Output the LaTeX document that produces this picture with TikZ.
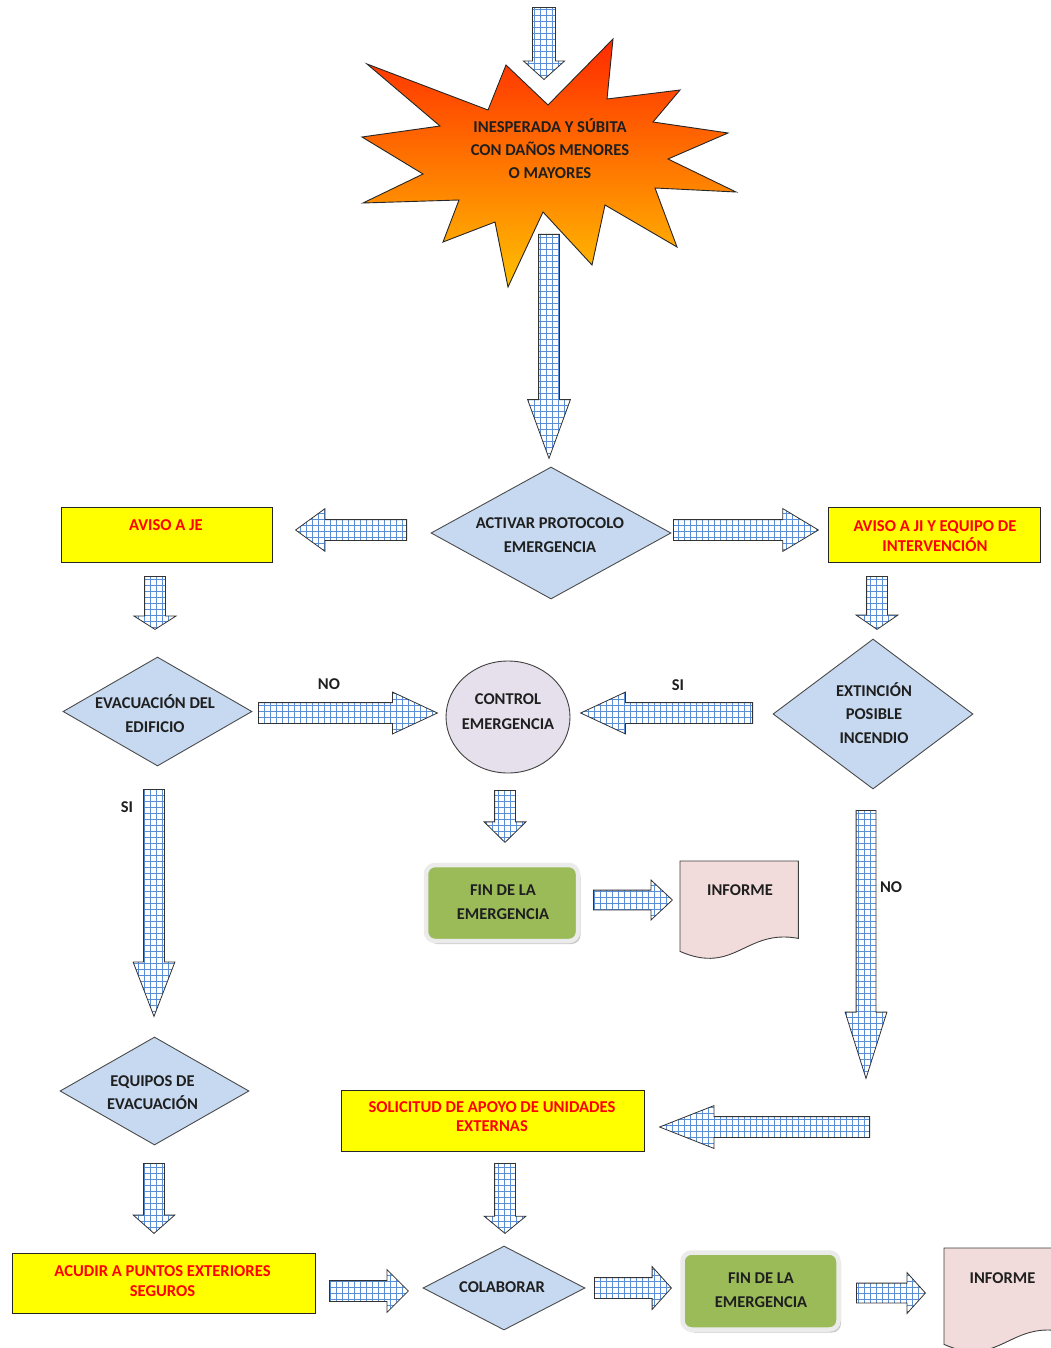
\documentclass[tikz,border=0pt]{standalone}
\usepackage{fontspec}
\setmainfont{Carlito}
\usetikzlibrary{shapes.geometric,shapes.arrows,patterns.meta,calc,shadows}
\definecolor{diafill}{HTML}{C6D9F1}
\definecolor{gridblue}{HTML}{5A8FD8}
\definecolor{ylw}{HTML}{FFFF00}
\definecolor{grn}{HTML}{9BBB59}
\definecolor{docfill}{HTML}{F2DCDB}
\definecolor{circfill}{HTML}{E6E0EC}
\definecolor{txtdark}{HTML}{1F1F1F}
\definecolor{txtred}{HTML}{FF0000}
\definecolor{sred}{HTML}{FF2A00}
\definecolor{smid}{HTML}{FF8A00}
\definecolor{sbot}{HTML}{FFC000}
\begin{document}
\begin{tikzpicture}[x=1pt,y=-1pt,
  every node/.style={font=\bfseries\fontsize{16.5}{24}\selectfont},
  txt/.style={align=center, text=txtdark, inner sep=0pt},
  rtxt/.style={align=center, text=txtred, inner sep=0pt, font=\bfseries\fontsize{16.6}{20}\selectfont},
  dia/.style={diamond, draw=black!70, fill=diafill, line width=0.9pt, inner sep=0pt},
  ybox/.style={rectangle, draw=black!85, fill=ylw, line width=1pt, inner sep=0pt},
  gbox/.style={rectangle, rounded corners=9pt, fill=grn, draw=black!8, line width=4.5pt, inner sep=0pt,
    drop shadow={shadow xshift=2.5pt, shadow yshift=-3pt, fill=black!35, opacity=0.6}},
  docnode/.style={rectangle, minimum width=118pt, inner sep=0pt, anchor=north west},
  docpath/.style={fill=docfill, draw=black!75, line width=0.9pt},
  barrow/.style={single arrow, draw=black!80, line width=0.8pt, inner sep=10pt,
    single arrow head indent=0pt, single arrow head extend=10.5pt, anchor=tail,
    preaction={fill=white},
    pattern={Hatch[distance=6pt, line width=1pt]}, pattern color=gridblue},
  down/.style={shape border rotate=270},
  left/.style={shape border rotate=180},
]
\useasboundingbox (0,0) rectangle (1051,1348);
\clip (0,0) rectangle (1051,1348);
\fill[white] (0,0) rectangle (1051,1348);

% star
\shadedraw[top color=sred, middle color=smid, bottom color=sbot, draw=black!85, line width=0.9pt]
 (367,64) -- (488,110) -- (506,65) -- (548,105) -- (613,39) -- (607,99) -- (680,90)
 -- (653,122) -- (728,133) -- (668,159) -- (736,192) -- (655,188) -- (677,247)
 -- (605,205) -- (592,265) -- (543,212) -- (508,287) -- (495,222) -- (443,242)
 -- (459,200) -- (363,203) -- (423,174) -- (362,137) -- (440,126) -- cycle;
\node[txt, font=\bfseries\fontsize{16.6}{23}\selectfont] (star) at (550,149) {INESPERADA Y SÚBITA\\CON DAÑOS MENORES\\O MAYORES};

% diamonds
\node[dia, minimum width=240pt, minimum height=132pt] (act) at (551,533) {};
\node[txt] (actt) at (550,535) {ACTIVAR PROTOCOLO\\EMERGENCIA};
\node[dia, minimum width=189pt, minimum height=109pt] (evac) at (157.5,711.5) {};
\node[txt] (evact) at (155,714) {EVACUACIÓN DEL\\EDIFICIO};
\node[dia, minimum width=200pt, minimum height=150pt] (ext) at (873,714) {};
\node[txt, font=\bfseries\fontsize{16.5}{23.5}\selectfont] (extt) at (874,713) {EXTINCIÓN\\POSIBLE\\INCENDIO};
\node[dia, minimum width=189pt, minimum height=108pt] (equ) at (154.5,1091) {};
\node[txt, font=\bfseries\fontsize{16.5}{23}\selectfont] (equt) at (152.5,1092.5) {EQUIPOS DE\\EVACUACIÓN};
\node[dia, minimum width=162pt, minimum height=84pt] (col) at (504,1288) {};
\node[txt] (colt) at (502,1287) {COLABORAR};

% control ellipse
\node[ellipse, draw=black!75, fill=circfill, line width=0.9pt, minimum width=124pt, minimum height=112pt, inner sep=0pt] (ctrl) at (508,717) {};
\node[txt, font=\bfseries\fontsize{16.5}{25}\selectfont] (ctrlt) at (508,711.5) {CONTROL\\EMERGENCIA};

% yellow boxes
\node[ybox, minimum width=211pt, minimum height=55pt] (je) at (166.5,534.5) {};
\node[rtxt] (jet) at (166,525) {AVISO A JE};
\node[ybox, minimum width=212pt, minimum height=55pt] (ji) at (934,534.5) {};
\node[rtxt] (jit) at (935,536) {AVISO A JI Y EQUIPO DE\\INTERVENCIÓN};
\node[ybox, minimum width=303pt, minimum height=61pt] (sol) at (492.5,1120.5) {};
\node[rtxt, font=\bfseries\fontsize{16.6}{18.5}\selectfont] (solt) at (492,1116.5) {SOLICITUD DE APOYO DE UNIDADES\\EXTERNAS};
\node[ybox, minimum width=303pt, minimum height=60pt] (acu) at (163.5,1283) {};
\node[rtxt] (acut) at (162.5,1281.5) {ACUDIR A PUNTOS EXTERIORES\\SEGUROS};

% green boxes
\node[gbox, minimum width=152pt, minimum height=76pt] (fin1) at (502,903) {};
\node[txt] (fin1t) at (503,902) {FIN DE LA\\EMERGENCIA};
\node[gbox, minimum width=156pt, minimum height=77pt] (fin2) at (760.5,1291) {};
\node[txt] (fin2t) at (761,1290) {FIN DE LA\\EMERGENCIA};

% documents
\node[docnode, minimum height=96pt] (inf1) at (680,861) {};
\path[docpath] (inf1.north west) -- (inf1.north east) -- ($(inf1.south east)+(0,-19)$)
  .. controls ($(inf1.south east)+(-53,-29)$) and ($(inf1.south west)+(55,18)$) .. ($(inf1.south west)+(0,-6)$) -- cycle;
\node[txt] (inf1t) at (740,890) {INFORME};
\node[docnode, minimum height=102pt] (inf2) at (944,1248) {};
\path[docpath] (inf2.north west) -- (inf2.north east) -- ($(inf2.south east)+(0,-19)$)
  .. controls ($(inf2.south east)+(-53,-29)$) and ($(inf2.south west)+(55,18)$) .. ($(inf2.south west)+(0,-6)$) -- cycle;
\node[txt] (inf2t) at (1002.5,1278) {INFORME};

% block arrows (inner sep = half shaft width)
\node[barrow, down, inner sep=11pt, minimum height=72pt, minimum width=40pt, single arrow head extend=9pt, single arrow tip angle=96] (a0) at (544,7) {};
\node[barrow, down, minimum height=224pt, minimum width=42pt, single arrow head extend=11pt, single arrow tip angle=40] (a1) at (549,234) {};
\node[barrow, left, minimum height=111pt, minimum width=42pt, single arrow head extend=11pt, single arrow tip angle=72] (a2) at (407,530) {};
\node[barrow, minimum height=145pt, minimum width=42pt, single arrow head extend=11pt, single arrow tip angle=62] (a3) at (673,530) {};
\node[barrow, down, minimum height=53pt, minimum width=41pt, single arrow tip angle=115] (a4) at (155,576) {};
\node[barrow, down, minimum height=53pt, minimum width=41pt, single arrow tip angle=111] (a5) at (877,576) {};
\node[barrow, minimum height=179pt, minimum width=41pt, single arrow tip angle=50] (a6) at (258,713) {};
\node[barrow, left, minimum height=172pt, minimum width=41pt, single arrow tip angle=50] (a7) at (753,713) {};
\node[barrow, down, minimum height=52pt, minimum width=41pt, single arrow tip angle=91] (a8) at (505,790) {};
\node[barrow, inner sep=9.5pt, minimum height=79pt, minimum width=39pt, single arrow head extend=10pt, single arrow tip angle=86] (a9) at (593,900) {};
\node[barrow, down, minimum height=227pt, minimum width=41pt, single arrow tip angle=42] (a10) at (154,789) {};
\node[barrow, down, inner sep=9.5pt, minimum height=268pt, minimum width=41pt, single arrow head extend=11pt, single arrow tip angle=35] (a11) at (866,810) {};
\node[barrow, left, minimum height=210pt, minimum width=42pt, single arrow head extend=11pt, single arrow tip angle=43] (a12) at (870,1127) {};
\node[barrow, down, minimum height=70pt, minimum width=41pt, single arrow tip angle=97] (a13) at (154,1163) {};
\node[barrow, down, minimum height=70pt, minimum width=41pt, single arrow tip angle=101] (a14) at (505,1163) {};
\node[barrow, minimum height=79pt, minimum width=42pt, single arrow head extend=11pt, single arrow tip angle=90] (a15) at (329,1291) {};
\node[barrow, minimum height=77pt, minimum width=42pt, single arrow head extend=11pt, single arrow tip angle=96] (a16) at (594,1288) {};
\node[barrow, inner sep=9.5pt, minimum height=69pt, minimum width=40pt, single arrow head extend=10.5pt, single arrow tip angle=96] (a17) at (856,1293) {};

% branch labels
\node[txt] (lno1) at (329,684) {NO};
\node[txt] (lsi1) at (678,685) {SI};
\node[txt] (lsi2) at (127,807) {SI};
\node[txt] (lno2) at (891,887) {NO};
\end{tikzpicture}
\end{document}
